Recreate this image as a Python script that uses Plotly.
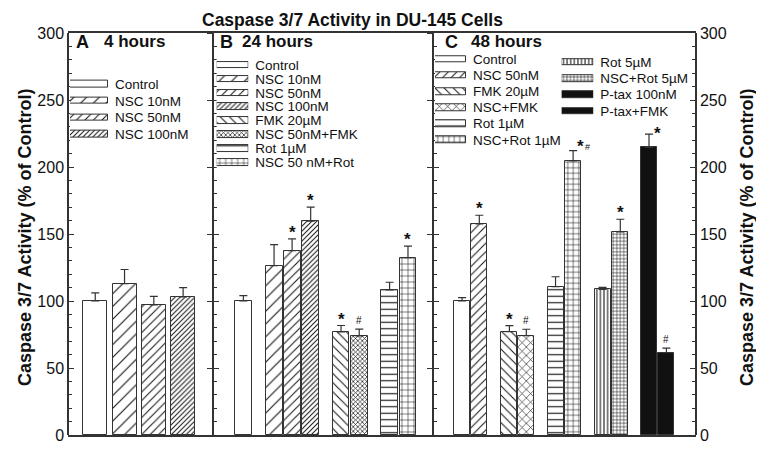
import plotly.graph_objects as go

# ---------------- data ----------------
a_labels = ["Control", "NSC 10nM", "NSC 50nM", "NSC 100nM"]
a_keys = ["ctrl", "nsc10", "nsc50", "nsc100"]
a_values = [100, 113, 97, 103]
a_errors = [6, 10.5, 6.5, 7]
a_sig = ["", "", "", ""]

b_labels = ["Control", "NSC 10nM", "NSC 50nM", "NSC 100nM", "FMK 20µM",
            "NSC 50nM+FMK", "Rot 1µM", "NSC 50 nM+Rot"]
b_keys = ["ctrl", "nsc10", "nsc50", "nsc100", "fmk", "nscfmk_d", "rot1", "nscrot1"]
b_values = [100, 126.4, 137.5, 159.5, 77, 74, 108.2, 132.3]
b_errors = [4, 15.6, 8.8, 10.5, 4.7, 5, 5.8, 8.7]
b_sig = ["", "", "*", "*", "*", "#", "", "*"]

c_labels = ["Control", "NSC 50nM", "FMK 20µM", "NSC+FMK", "Rot 1µM",
            "NSC+Rot 1µM", "Rot 5µM", "NSC+Rot 5µM", "P-tax 100nM", "P-tax+FMK"]
c_keys = ["ctrl", "nsc50", "fmk", "nscfmk", "rot1", "nscrot1c", "rot5", "nscrot5", "ptax", "ptax"]
c_values = [100, 157.5, 77.1, 74.1, 110.7, 204.5, 108.7, 151.5, 214.7, 61.4]
c_errors = [2.5, 6.5, 4.5, 4.8, 7.4, 7.7, 1.5, 9.5, 9.9, 3.5]
c_sig = ["", "*", "*", "#", "", "*#", "", "*", "*", "#"]

y_ticks = [0, 50, 100, 150, 200, 250, 300]
title_text = "Caspase 3/7 Activity in DU-145 Cells"
y_title = "Caspase 3/7 Activity (% of Control)"

# ---------------- layout helpers ----------------
# page has an 8px body margin, so the figure is drawn 8px smaller
OFF = 8
W, H = 764 - OFF, 450 - OFF
L, R, T, B = 68, 696, 33, 435          # plot area in page pixels
PW, PH = R - L, B - T

def px(x):
    return (x - L) / PW

def py(y):
    return (B - y) / PH

INK = "#333333"
FONT = "Liberation Sans, Arial, sans-serif"

STY = {
    "ctrl":     dict(shape="", size=8, sol=0.1, color="white"),
    "nsc10":    dict(shape="/", size=9, sol=0.13, color="white"),
    "nsc50":    dict(shape="/", size=6, sol=0.18, color="white"),
    "nsc100":   dict(shape="/", size=3.5, sol=0.3, color="white"),
    "fmk":      dict(shape="\\", size=6.5, sol=0.17, color="white"),
    "nscfmk_d": dict(shape="x", size=3.2, sol=0.4, color="white"),
    "nscfmk":   dict(shape="x", size=6, sol=0.2, color="white"),
    "rot1":     dict(shape="-", size=6.5, sol=0.18, color="white"),
    "nscrot1":  dict(shape="+", size=6, sol=0.18, color="white"),
    "nscrot1c": dict(shape="+", size=5.5, sol=0.2, color="white"),
    "rot5":     dict(shape="|", size=3.6, sol=0.3, color="white"),
    "nscrot5":  dict(shape="+", size=3.5, sol=0.3, color="white"),
    "ptax":     dict(shape="", size=8, sol=0.1, color="#111111"),
}

def marker_for(key):
    s = STY[key]
    m = dict(color=s["color"], line=dict(color=INK, width=1))
    if s["shape"]:
        m["pattern"] = dict(shape=s["shape"], size=s["size"], solidity=s["sol"],
                            fgcolor="#1a1a1a", fgopacity=1, bgcolor="white",
                            fillmode="replace")
    return m

panels = [
    dict(xa="x", dom=[px(L), px(213)], rng=[0.07, 5.02], pos=[1, 2, 3, 4], w=0.82,
         keys=a_keys, vals=a_values, errs=a_errors, sig=a_sig),
    dict(xa="x2", dom=[px(213), px(433)], rng=[0, 11.96],
         pos=[1.65, 3.32, 4.30, 5.31, 6.96, 7.95, 9.60, 10.60], w=0.92,
         keys=b_keys, vals=b_values, errs=b_errors, sig=b_sig),
    dict(xa="x3", dom=[px(433), 1.0], rng=[0, 15.11],
         pos=[1.67, 2.66, 4.39, 5.36, 7.04, 8.05, 9.74, 10.76, 12.41, 13.41], w=0.92,
         keys=c_keys, vals=c_values, errs=c_errors, sig=c_sig),
]

fig = go.Figure()
annotations = []

def star(xref, x, y, text, size, xs, ys, bold=False):
    annotations.append(dict(x=x, y=y, xref=xref, yref="y",
                            text=("<b>%s</b>" % text) if bold else text, showarrow=False,
                            xshift=xs, yshift=ys, yanchor="bottom",
                            font=dict(size=size, color="#111", family=FONT)))

for p in panels:
    for xi, k, v, e, s in zip(p["pos"], p["keys"], p["vals"], p["errs"], p["sig"]):
        fig.add_trace(go.Bar(
            x=[xi], y=[v], width=[p["w"]], xaxis=p["xa"], yaxis="y",
            marker=marker_for(k),
            error_y=dict(type="data", symmetric=False, array=[e], arrayminus=[0],
                         color=INK, thickness=1.2, width=4),
            showlegend=False, hoverinfo="skip",
        ))
        top = v + e
        if s == "*#":
            star(p["xa"], xi, top, "*", 17, 7, -7, True)
            star(p["xa"], xi, top, "#", 9, 14, -3)
        elif s == "*" and p["xa"] == "x3" and top > 220:
            star(p["xa"], xi, top, "*", 17, 8, -11, True)
        elif s == "*":
            star(p["xa"], xi, top, "*", 17, 0, -5, True)
        elif s == "#":
            star(p["xa"], xi, top, "#", 10, 0, 1)

# ---------------- legends drawn as small horizontal bars ----------------
legends = [
    dict(labels=a_labels, keys=a_keys, x0=70, x1=108, r0=84, r1=134.3, sh=6.5),
    dict(labels=b_labels, keys=b_keys, x0=216.7, x1=248.3, r0=65, r1=162.3, sh=6.5),
    dict(labels=c_labels[:6], keys=c_keys[:6], x0=435, x1=466, r0=59.3, r1=139.8, sh=6.5),
    dict(labels=c_labels[6:], keys=c_keys[6:], x0=561.7, x1=593.3, r0=62.3, r1=111, sh=6.5),
]
for i, lg in enumerate(legends):
    n = len(lg["labels"])
    band = (lg["r1"] - lg["r0"]) / (n - 1)
    xa = "x%d" % (4 + i)
    ya = "y%d" % (7 + i)
    for lab, k in zip(lg["labels"], lg["keys"]):
        fig.add_trace(go.Bar(
            x=[1], y=[lab], orientation="h", width=lg["sh"] / band,
            xaxis=xa, yaxis=ya, marker=marker_for(k),
            showlegend=False, hoverinfo="skip",
        ))
    fig.layout["xaxis%d" % (4 + i)] = dict(
        domain=[px(lg["x0"]), px(lg["x1"])], range=[0, 1], anchor=ya,
        visible=False, fixedrange=True)
    fig.layout["yaxis%d" % (7 + i)] = dict(
        domain=[py(lg["r1"] + band / 2), py(lg["r0"] - band / 2)],
        anchor=xa, side="right", type="category", autorange="reversed",
        categoryorder="array", categoryarray=lg["labels"],
        tickmode="array", tickvals=lg["labels"], ticktext=lg["labels"],
        showgrid=False, zeroline=False, showline=False, ticks="",
        ticklabelstandoff=6, fixedrange=True,
        tickfont=dict(size=13.5, color="#111", family=FONT))

# invisible anchor traces so that the extra y axes are drawn
for ya in ["y2", "y3", "y4", "y5", "y6"]:
    fig.add_trace(go.Scatter(x=[1], y=[0], xaxis="x", yaxis=ya, mode="markers",
                             marker=dict(opacity=0, size=1), showlegend=False,
                             hoverinfo="skip"))

# ---------------- axes ----------------
for p, name in zip(panels, ["xaxis", "xaxis2", "xaxis3"]):
    fig.layout[name] = dict(domain=p["dom"], range=p["rng"], anchor="y",
                            showline=True, mirror=True, linecolor=INK, linewidth=1.5,
                            showticklabels=False, ticks="", showgrid=False,
                            zeroline=False, fixedrange=True)

yt = dict(range=[0, 300], tickvals=y_ticks, showgrid=False, zeroline=False,
          fixedrange=True, linecolor=INK, linewidth=1.5, showline=True)
tickf = dict(size=16, color="#111", family=FONT)

fig.update_layout(
    yaxis=dict(**yt, anchor="free", position=0, side="left", ticks="inside",
               ticklen=5, tickcolor=INK, tickwidth=1,
               minor=dict(dtick=10, ticks="inside", ticklen=3, tickcolor=INK),
               tickfont=tickf),
    yaxis2=dict(**yt, overlaying="y", anchor="free", position=1, side="right",
                ticks="inside", ticklen=5, tickcolor=INK,
                minor=dict(dtick=10, ticks="inside", ticklen=3, tickcolor=INK),
                tickfont=tickf),
    yaxis3=dict(**yt, overlaying="y", anchor="free", position=px(213), side="left",
                ticks="inside", ticklen=5, tickcolor=INK, showticklabels=False,
                minor=dict(dtick=10, ticks="inside", ticklen=3, tickcolor=INK)),
    yaxis4=dict(**yt, overlaying="y", anchor="free", position=px(213), side="left",
                ticks="outside", ticklen=5, tickcolor=INK, showticklabels=False),
    yaxis5=dict(**yt, overlaying="y", anchor="free", position=px(433), side="left",
                ticks="inside", ticklen=5, tickcolor=INK, showticklabels=False,
                minor=dict(dtick=10, ticks="inside", ticklen=3, tickcolor=INK)),
    yaxis6=dict(**yt, overlaying="y", anchor="free", position=px(433), side="left",
                ticks="outside", ticklen=5, tickcolor=INK, showticklabels=False),
)

for letter, lx, txt, tx in [("A", 74, "4 hours", 101.7), ("B", 217.7, "24 hours", 240),
                            ("C", 442.7, "48 hours", 469.3)]:
    annotations.append(dict(x=px(lx), y=py(42), xref="paper", yref="paper",
                            text="<b>%s</b>" % letter, showarrow=False,
                            xanchor="left", yanchor="middle",
                            font=dict(size=18, color="#111", family=FONT)))
    annotations.append(dict(x=px(tx), y=py(42), xref="paper", yref="paper",
                            text="<b>%s</b>" % txt, showarrow=False,
                            xanchor="left", yanchor="middle",
                            font=dict(size=17, color="#111", family=FONT)))

for tx in (25, 747):
    annotations.append(dict(x=px(tx), y=py(238), xref="paper", yref="paper",
                            text="<b>%s</b>" % y_title, textangle=-90, showarrow=False,
                            xanchor="center", yanchor="middle",
                            font=dict(size=18, color="#111", family=FONT)))
annotations.append(dict(x=px(352), y=py(19.5), xref="paper", yref="paper",
                        text="<b>%s</b>" % title_text, showarrow=False,
                        xanchor="center", yanchor="middle",
                        font=dict(size=17.5, color="#111", family=FONT)))

fig.update_layout(
    width=W, height=H,
    margin=dict(l=L - OFF, r=(W + OFF) - R, t=T - OFF, b=(H + OFF) - B, autoexpand=False),
    paper_bgcolor="white", plot_bgcolor="white",
    barmode="overlay", bargap=0,
    annotations=annotations,
    font=dict(family=FONT, color="#111"),
    showlegend=False,
)

fig.write_html("out.html")
